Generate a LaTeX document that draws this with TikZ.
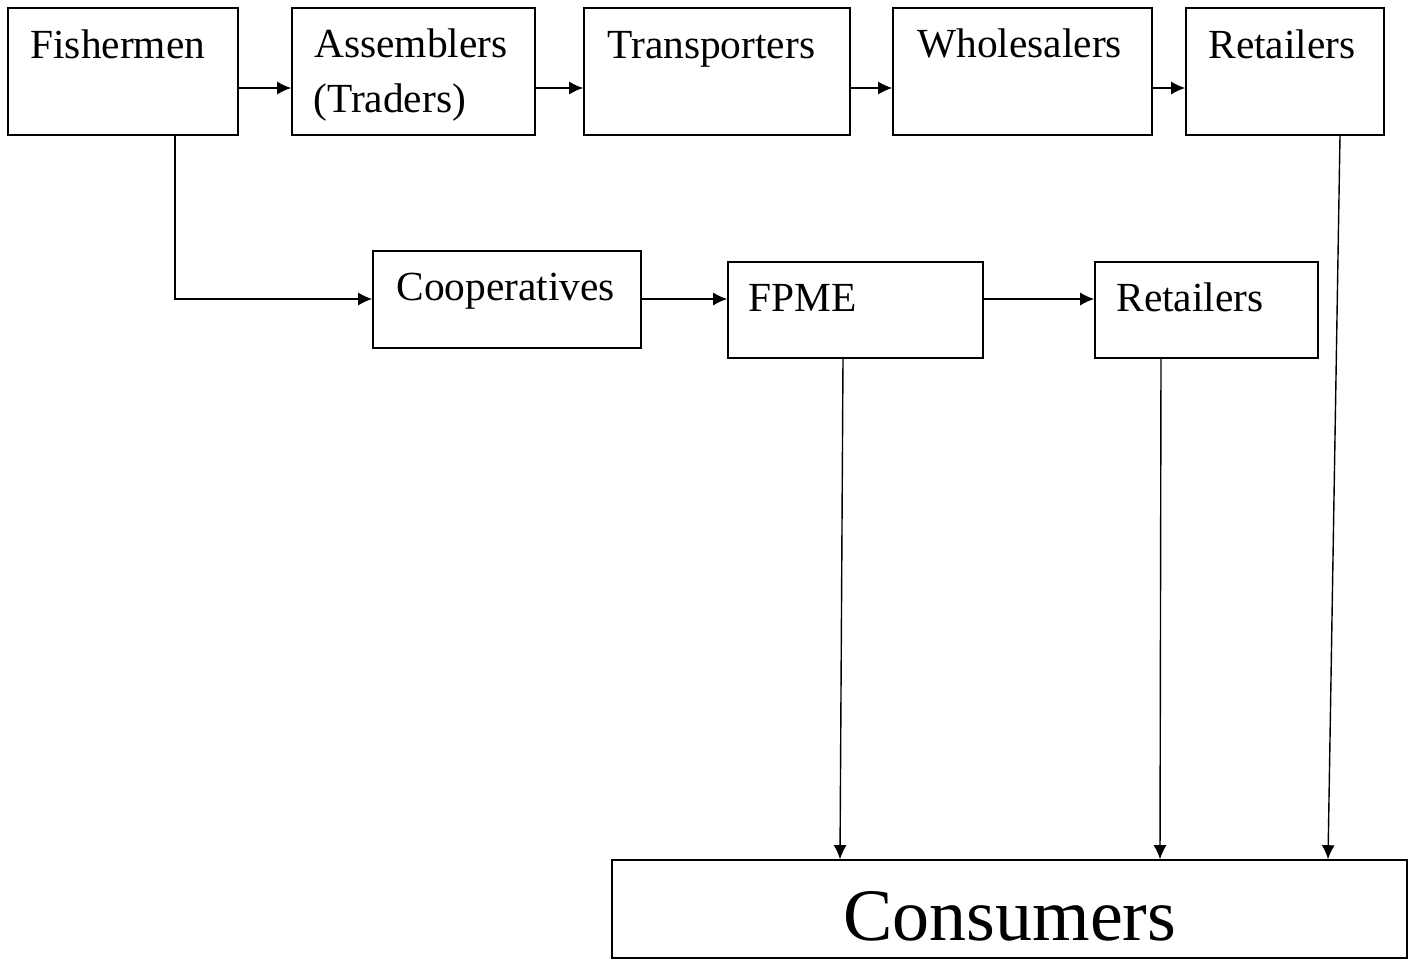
\documentclass[tikz,border=0pt]{standalone}
\usepackage{fontspec}
\setmainfont{Liberation Serif}
\usetikzlibrary{arrows.meta}
\begin{document}
\begin{tikzpicture}[x=0.5pt,y=-0.5pt,
  box/.style={draw, line width=0.8pt, inner sep=0pt},
  lbl/.style={anchor=base west, inner sep=0pt, font=\fontsize{20.7}{24}\selectfont},
  big/.style={anchor=base west, inner sep=0pt, font=\fontsize{37}{40}\selectfont},
  arr/.style={line width=0.7pt, -{Latex[length=7pt,width=6.5pt]}}]
\useasboundingbox (0,0) rectangle (1414,960);
% boxes
\node[box, minimum width=115pt, minimum height=63.5pt] (fish) at (123,71.5) {};
\node[box, minimum width=121.5pt, minimum height=63.5pt] (asm) at (413.5,71.5) {};
\node[box, minimum width=133pt, minimum height=63.5pt] (trans) at (717,71.5) {};
\node[box, minimum width=129.5pt, minimum height=63.5pt] (whole) at (1022.5,71.5) {};
\node[box, minimum width=99pt, minimum height=63.5pt] (retA) at (1285,71.5) {};
\node[box, minimum width=134pt, minimum height=48.5pt] (coop) at (507,299.5) {};
\node[box, minimum width=127.5pt, minimum height=48pt] (fpme) at (855.5,310) {};
\node[box, minimum width=111.5pt, minimum height=48pt] (retB) at (1206.5,310) {};
\node[box, minimum width=397.5pt, minimum height=49pt] (cons) at (1009.5,909) {};
% labels
\node[lbl] (tfish) at (30,58) {Fishermen};
\node[lbl] (tasm1) at (314,57) {Assemblers};
\node[lbl] (tasm2) at (313,112) {(Traders)};
\node[lbl] (ttrans) at (607,58) {Transporters};
\node[lbl] (twhole) at (917,57) {Wholesalers};
\node[lbl] (tretA) at (1208,58) {Retailers};
\node[lbl] (tcoop) at (396,300) {Cooperatives};
\node[lbl] (tfpme) at (748,311) {FPME};
\node[lbl] (tretB) at (1116,311) {Retailers};
\node[big] (tcons) at (843,940) {Consumers};
% connectors
\draw[arr] (fish.east |- 0,88) -- (asm.west |- 0,88);
\draw[arr] (asm.east |- 0,88) -- (trans.west |- 0,88);
\draw[arr] (trans.east |- 0,88) -- (whole.west |- 0,88);
\draw[arr] (whole.east |- 0,88) -- (retA.west |- 0,88);
\draw[arr] (fish.south -| 175,0) |- (coop.west |- 0,299);
\draw[arr] (coop.east |- 0,299) -- (fpme.west |- 0,299);
\draw[arr] (fpme.east |- 0,299) -- (retB.west |- 0,299);
\draw[arr] (fpme.south -| 843,0) -- (cons.north -| 840,0);
\draw[arr] (retB.south -| 1161,0) -- (cons.north -| 1160,0);
\draw[arr] (retA.south -| 1340,0) -- (cons.north -| 1328,0);
\end{tikzpicture}
\end{document}
